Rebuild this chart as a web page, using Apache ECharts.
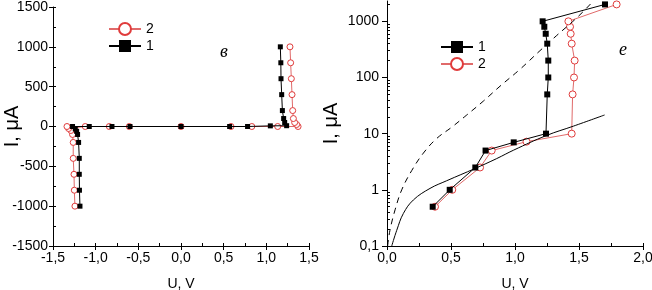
<!DOCTYPE html>
<html>
<head>
<meta charset="utf-8">
<script src="https://cdn.jsdelivr.net/npm/echarts@6/dist/echarts.min.js"></script>
<style>
  html, body { margin: 0; padding: 0; background: #fff; }
  #chart { width: 652px; height: 290px; }
</style>
</head>
<body>
<div id="chart"></div>
<script>
// left panel (linear), curve 1 = black squares, curve 2 = red circles
const leftU1 = [-1.184, -1.19, -1.192, -1.192, -1.2, -1.212, -1.223, -1.239, -1.271, -1.075, -0.809, -0.598, 0, 0.57, 0.78, 1.047, 1.238, 1.215, 1.203, 1.188, 1.18, 1.172, 1.17, 1.164];
const leftI1 = [-1000, -800, -600, -400, -200, -100, -60, -30, 0, 0, 0, 0, 0, 0, 0, 8, 10, 50, 100, 200, 400, 600, 800, 1000];
const leftU2 = [-1.243, -1.25, -1.254, -1.263, -1.263, -1.271, -1.29, -1.317, -1.336, -1.122, -0.84, -0.606, 0, 0.586, 0.83, 1.133, 1.372, 1.355, 1.332, 1.317, 1.309, 1.301, 1.293, 1.285, 1.277];
const leftI2 = [-1000, -800, -600, -400, -200, -100, -50, -25, 0, 0, 0, 0, 0, 0, 0, 0, 0, 25, 50, 100, 200, 400, 600, 800, 1000];

// right panel (log current)
const rightU1 = [0.357, 0.49, 0.69, 0.77, 0.99, 1.242, 1.252, 1.26, 1.26, 1.252, 1.24, 1.229, 1.216, 1.703];
const rightI1 = [0.5, 1, 2.5, 5, 7, 10, 50, 100, 200, 400, 600, 800, 1000, 2000];
const rightU2 = [0.375, 0.51, 0.727, 0.818, 1.09, 1.443, 1.45, 1.461, 1.466, 1.443, 1.435, 1.43, 1.417, 1.794];
const rightI2 = [0.5, 1, 2.5, 5, 7.2, 10, 50, 100, 200, 400, 600, 800, 1000, 2000];

// fitted curves on the right panel
const fitSolidU = [0.037, 0.076, 0.128, 0.206, 0.336, 0.466, 0.688, 0.857, 0.99, 1.247, 1.456, 1.70];
const fitSolidI = [0.1, 0.19, 0.38, 0.66, 1.06, 1.45, 2.4, 3.6, 5.1, 9.3, 13.6, 21.5];
const fitDashU = [0.005, 0.023, 0.063, 0.115, 0.193, 0.284, 0.388, 0.505, 0.623, 0.753, 0.883, 1.039, 1.195, 1.326, 1.482, 1.6];
const fitDashI = [0.1, 0.19, 0.44, 1.0, 2.2, 4.5, 8.2, 13, 21.5, 38, 70, 140, 300, 560, 1150, 2150];

const logMajor = [0.1, 1, 10, 100, 1000];
const logMinor = [0.2, 0.3, 0.4, 0.5, 0.6, 0.7, 0.8, 0.9, 2, 3, 4, 5, 6, 7, 8, 9,
  20, 30, 40, 50, 60, 70, 80, 90, 200, 300, 400, 500, 600, 700, 800, 900, 2000];

const zip = (a, b) => a.map((v, i) => [v, b[i]]);
const comma = v => v.toFixed(1).replace('.', ',');
const font = "'Liberation Sans', Arial, sans-serif";
const red = '#e03c3c';
const redLine = '#e06a6a';

const chart = echarts.init(document.getElementById('chart'));

const labelStyle = { color: '#000', fontSize: 14, fontFamily: font };
const mainAxis = {
  axisLine: { show: true, onZero: false, lineStyle: { color: '#000', width: 1 } },
  axisTick: { show: true, inside: false, length: 4, lineStyle: { color: '#000' } },
  splitLine: { show: false },
  nameLocation: 'middle',
  nameMoveOverlap: false,
};
const minorAxis = {
  axisLine: { show: false, onZero: false },
  axisLabel: { show: false },
  axisTick: { show: true, inside: true, length: 3, lineStyle: { color: '#000' } },
  splitLine: { show: false },
};
const gridBase = { outerBoundsMode: 'none', containLabel: false };

const option = {
  animation: false,
  backgroundColor: '#fff',
  grid: [
    Object.assign({ left: 53, top: 7, width: 256, height: 239 }, gridBase),
    Object.assign({ left: 387, top: 1, width: 256, height: 245 }, gridBase),
    Object.assign({ left: 53, top: 7, width: 256, height: 239 }, gridBase),
    Object.assign({ left: 387, top: 1, width: 256, height: 245 }, gridBase),
  ],
  xAxis: [
    Object.assign({}, mainAxis, {
      gridIndex: 0, type: 'value', min: -1.5, max: 1.5, interval: 0.5,
      axisLabel: Object.assign({ margin: 5, formatter: comma }, labelStyle),
      name: 'U, V', nameGap: 31, nameTextStyle: { color: '#000', fontSize: 14, fontFamily: font },
    }),
    Object.assign({}, mainAxis, {
      gridIndex: 1, type: 'value', min: 0, max: 2, interval: 0.5,
      axisLabel: Object.assign({ margin: 5, formatter: comma }, labelStyle),
      name: 'U, V', nameGap: 31, nameTextStyle: { color: '#000', fontSize: 14, fontFamily: font },
    }),
    Object.assign({}, minorAxis, { gridIndex: 2, type: 'value', min: -1.5, max: 1.5, interval: 0.25 }),
    Object.assign({}, minorAxis, { gridIndex: 3, type: 'value', min: 0, max: 2, interval: 0.25 }),
  ],
  yAxis: [
    Object.assign({}, mainAxis, {
      gridIndex: 0, type: 'value', min: -1500, max: 1500, interval: 500,
      axisLabel: Object.assign({ margin: 5, formatter: v => String(v) }, labelStyle),
      name: 'I, \u03bcA', nameGap: 31, nameTextStyle: { color: '#000', fontSize: 20, fontFamily: font },
    }),
    Object.assign({}, mainAxis, {
      gridIndex: 1, type: 'log', logBase: 10, min: 0.1, max: 2300,
      axisTick: { show: true, inside: false, length: 5, customValues: logMajor, lineStyle: { color: '#000' } },
      axisLabel: Object.assign({
        margin: 8, customValues: logMajor,
        formatter: v => {
          const l = Math.log10(v);
          if (Math.abs(l - Math.round(l)) > 1e-6) return '';
          return v < 1 ? '0,1' : String(Math.round(v));
        },
      }, labelStyle),
      name: 'I, \u03bcA', nameGap: 46, nameTextStyle: { color: '#000', fontSize: 20, fontFamily: font },
    }),
    Object.assign({}, minorAxis, { gridIndex: 2, type: 'value', min: -1500, max: 1500, interval: 250 }),
    Object.assign({}, minorAxis, {
      gridIndex: 3, type: 'log', logBase: 10, min: 0.1, max: 2300,
      axisTick: { show: true, inside: true, length: 3, customValues: logMinor, lineStyle: { color: '#000' } },
    }),
  ],
  legend: [
    {
      data: ['2', '1'], orient: 'vertical', left: 103, top: 17,
      itemWidth: 32, itemHeight: 15, itemGap: 3,
      textStyle: { color: '#000', fontSize: 14, fontFamily: font },
      selectedMode: false,
    },
    {
      data: ['1', '2'], orient: 'vertical', left: 435, top: 35,
      itemWidth: 32, itemHeight: 15, itemGap: 3,
      textStyle: { color: '#000', fontSize: 14, fontFamily: font },
      selectedMode: false,
    },
  ],
  series: [
    {
      name: '1', type: 'line', xAxisIndex: 0, yAxisIndex: 0, data: zip(leftU1, leftI1),
      symbol: 'rect', symbolSize: 5, itemStyle: { color: '#000' },
      lineStyle: { color: '#000', width: 1 },
    },
    {
      name: '2', type: 'line', xAxisIndex: 0, yAxisIndex: 0, data: zip(leftU2, leftI2),
      symbol: 'circle', symbolSize: 6, itemStyle: { color: '#fff', borderColor: red, borderWidth: 1 },
      lineStyle: { color: redLine, width: 1 }, z: 1,
    },
    {
      name: '1', type: 'line', xAxisIndex: 1, yAxisIndex: 1, data: zip(rightU1, rightI1),
      symbol: 'rect', symbolSize: 6, itemStyle: { color: '#000' },
      lineStyle: { color: '#000', width: 1 },
    },
    {
      name: '2', type: 'line', xAxisIndex: 1, yAxisIndex: 1, data: zip(rightU2, rightI2),
      symbol: 'circle', symbolSize: 7, itemStyle: { color: '#fff', borderColor: red, borderWidth: 1 },
      lineStyle: { color: redLine, width: 1 }, z: 1,
    },
    {
      name: 'fit', type: 'line', xAxisIndex: 1, yAxisIndex: 1, data: zip(fitSolidU, fitSolidI),
      symbol: 'none', smooth: 0.4, lineStyle: { color: '#000', width: 1 },
    },
    {
      name: 'fitDash', type: 'line', xAxisIndex: 1, yAxisIndex: 1, data: zip(fitDashU, fitDashI),
      symbol: 'none', smooth: 0.4, lineStyle: { color: '#000', width: 1, type: [6, 5] },
    },
  ],
  graphic: [
    { type: 'text', left: 220, top: 43, style: { text: '\u0432', font: "italic 18px 'Liberation Serif', serif", fill: '#000' } },
    { type: 'text', left: 619, top: 41, style: { text: '\u0435', font: "italic 18px 'Liberation Serif', serif", fill: '#000' } },
  ],
};

chart.setOption(option);
</script>
</body>
</html>
